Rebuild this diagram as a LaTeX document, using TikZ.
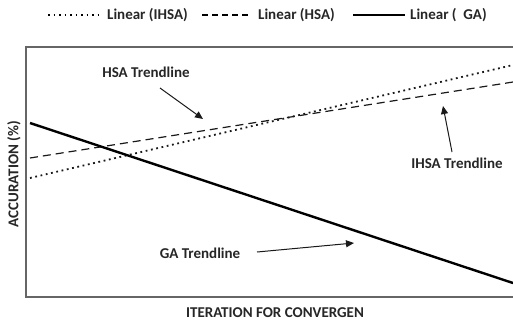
\documentclass[tikz,border=0pt]{standalone}
\usepackage{fontspec}
\setmainfont{Carlito}
\usetikzlibrary{arrows.meta}
\begin{document}
\begin{tikzpicture}[x=1pt,y=-1pt,
  lbl/.style={font=\bfseries\fontsize{15}{17}\selectfont, inner sep=0pt, text=black!85},
  galine/.style={line width=2.4pt, black},
  hsaline/.style={line width=1.2pt, black!90, dash pattern=on 8pt off 5pt},
  ihsaline/.style={line width=1.8pt, black!90, dash pattern=on 1.8pt off 3.6pt},
  frame/.style={line width=1.2pt, black!60},
  pointer/.style={line width=1pt, black!90, -{Triangle[length=8pt,width=7pt]}}
]
\useasboundingbox (0,0) rectangle (513,322);
% frame
\coordinate (tl) at (26,47);
\coordinate (tr) at (513,47);
\coordinate (bl) at (26,297);
\coordinate (br) at (513,297);
\draw[frame] (tr) -- (tl) -- (bl) -- (br);
% trend lines
\coordinate (ga1) at (30,123);
\coordinate (ga2) at (513,283);
\coordinate (hsa1) at (30,158);
\coordinate (hsa2) at (513,82);
\coordinate (ihsa1) at (30,178);
\coordinate (ihsa2) at (513,65);
\draw[hsaline] (hsa1) -- (hsa2);
\draw[ihsaline] (ihsa1) -- (ihsa2);
\draw[galine] (ga1) -- (ga2);
% labels
\node[lbl] (hsal) at (146,72) {HSA Trendline};
\node[lbl] (ihsal) at (457,163) {IHSA Trendline};
\node[lbl] (gal) at (200,253) {GA Trendline};
\coordinate (hsas) at (160,88);
\coordinate (hsat) at (203,119);
\coordinate (ihsas) at (452,152);
\coordinate (ihsat) at (443,106);
\coordinate (gas) at (257,252);
\coordinate (gat) at (354,243);
\draw[pointer] (hsas) -- (hsat);
\draw[pointer] (ihsas) -- (ihsat);
\draw[pointer] (gas) -- (gat);
% axis titles
\node[lbl] (xl) at (275,313) {ITERATION FOR CONVERGEN};
\node[lbl, rotate=90] (yl) at (14,174) {ACCURATION (\%)};
% legend
\coordinate (l1a) at (48,15);
\coordinate (l1b) at (98,15);
\coordinate (l2a) at (202,15);
\coordinate (l2b) at (250,15);
\coordinate (l3a) at (353,15);
\coordinate (l3b) at (405,15);
\draw[line width=1.5pt, dash pattern=on 1.5pt off 4pt] (l1a) -- (l1b);
\draw[line width=1.2pt, dash pattern=on 6pt off 4pt] (l2a) -- (l2b);
\draw[line width=2pt] (l3a) -- (l3b);
\node[lbl, anchor=west] (leg1) at (107,15) {Linear (IHSA)};
\node[lbl, anchor=west] (leg2) at (258,15) {Linear (HSA)};
\node[lbl, anchor=west] (leg3) at (410,15) {Linear (\ \ GA)};
\end{tikzpicture}
\end{document}
